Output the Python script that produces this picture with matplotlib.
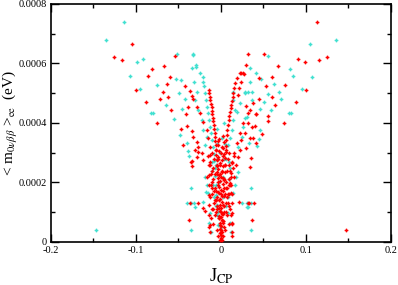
import numpy as np
import matplotlib
matplotlib.use("Agg")
import matplotlib.pyplot as plt
from matplotlib.ticker import MultipleLocator

# J_CP in units of 1e-3, <m> in units of 1e-4 eV
cyan_j = [-114, -135.7, -98.8, -91.4, -51.4, -32.6, -29.8, -107, -34.5, -53, -75.7, -47.4,
          -95.3, -49, -64.3, -82.7, -80, -45.9, -42.4, -54.9, -48.2, -40.4,
          135, 105, 55, 34.5, 80.8, 85, 106.7, 41.5, 46.7, 62.7, 94.9, 68.2, 55.3, 36.5, 28.2,
          70.6, 50.2, 58.4, 80.4, 82.4, 45.5, 46.2, 44.7, 42, 32.5, 28.2,
          -147, -35.3, -39.6, -35.7, -31.8, -31, -35.7, -39, -38, 35, 35, 30.2, 31.4, -20.8,
          24.7, 30.2, 35,
          -24.7, -21.5, -20.8, -20, -18.8, -17.6, -16.5, -15.3, -14.1, -12.9, -11.8, -10.6,
          -9.4, -8.2, -7.6, -7.1, -6.5, -5.9, -5.3, -4.7, -4.1, -3.5,
          -32.6, -29.4, -31.8, -28.6, -30.6, -26.7, -22.7, -20.8, -16.8, -18.8,
          -18.8, -16.8, -14.9, -12.9, -13.8, -12.1, -18,
          34.1, 32.1, 36.1, 28.2, 22.4, 18.5, 14.5, 12.6, 10.6, 8.6, 13.8, 14.5, 16.5,
          26.2, 24.4, 20.4, 30.2,
          8.2, 10.2, 12.1, 14.1, 16.1, 18, 20,
          -2, 2, -3, 3, -1, 1, 0, -4, 4, -6, 6, -9, 9, -11, 11,
          -8, -6, -4, -10, 8, 6, 4, 10, -5, 5]
cyan_m = [7.39, 6.80, 6.04, 6.14, 6.32, 6.33, 5.95, 5.57, 5.84, 5.47, 5.27, 5.43,
          5.13, 5.02, 4.59, 4.34, 4.34, 4.47, 4.80, 4.13, 3.60, 3.32,
          6.80, 6.64, 6.24, 5.85, 5.82, 5.58, 5.56, 5.68, 5.47, 5.30, 5.13, 5.04, 4.96, 5.04, 5.03,
          4.82, 4.71, 4.43, 4.34, 4.34, 4.48, 3.76, 3.47, 3.24, 3.34, 4.16,
          0.40, 1.83, 1.30, 1.30, 1.31, 1.17, 0.40, 3.07, 2.89, 0.41, 1.83, 1.31, 1.19, 1.35,
          1.31, 1.17, 1.30,
          5.68, 5.55, 5.39, 5.24, 5.01, 4.77, 4.54, 4.34, 4.10, 3.87, 3.66, 3.43,
          3.19, 2.96, 2.72, 2.49, 2.22, 1.92, 1.58, 1.24, 0.91, 0.57,
          6.29, 5.89, 5.39, 5.05, 4.77, 4.44, 4.10, 3.76, 3.54, 3.26,
          2.19, 1.92, 1.64, 0.96, 0.63, 0.35, 1.67,
          5.39, 5.05, 4.77, 5.00, 4.66, 4.38, 4.10, 3.76, 3.49, 3.26, 5.05, 4.77, 4.44,
          3.88, 3.54, 3.20, 4.21,
          0.96, 0.63, 0.35, 1.64, 1.92, 2.19, 2.36,
          2.0, 2.2, 1.0, 1.5, 3.0, 3.5, 0.5, 3.8, 4.0, 2.6, 2.8, 1.9, 2.1, 2.4, 2.5,
          1.5, 1.2, 2.8, 2.7, 1.5, 1.2, 2.8, 2.7, 3.3, 3.3]

red_j = [-105, -125.5, -116.5, -67, -81, -54.5, -85.5, -59.6, -64, -100, -68.6, -36.8, -42.7,
         -88.6, -71.4, -62.7, -58.8, -74.9, -33.3, -34.5, -38.5, -47, -44.3,
         -41.5, -40.4, -34.5, -32.6, -28.6, -26.7, -22.7, -20.8, -35.7, -30,
         113.3, 125, 115.7, 91, 98.4, 32.2, 51, 67, 29, 23.5, 26.7, 59.6, 44.3, 75.7, 99.6, 53.3,
         44.3, 60, 88.2, 64, 34.1, 29.4, 55, 40.8, 74.5, 55.7, 48.2, 40.8, 38, 36.1,
         41.5, 31.8, 39.6, 27.9, 33.8, 23.9, 22, 29.8, 20, 18, 35.7, 33.8,
         -36.5, -27, -20.8, -18.8, 20.8, 31.8, 39.2, 33.3,
         -37.3, 36.9, 146.7, -34.5, -34, -27.4, -27.8, 12.9,
         # left main arm
         -14.1, -13.5, -12.9, -12.4, -11.8, -10.9, -10.6, -10.0, -9.4, -9.1, -8.2, -7.9, -7.1,
         -7.1, -6.5, -5.9, -5.9, -5.3, -4.7, -4.7, -4.1, -3.5, -3.5, -2.9, -2.4, -2.4, -1.8,
         -1.2, -1.2, -0.6,
         # right main arm
         22.4, 18.8, 16.5, 15.3, 14.5, 13.8, 12.9, 12.1, 11.4, 10.6, 9.8, 9.1, 8.2, 7.6, 7.1,
         6.5, 5.9, 5.5, 5.1, 4.7, 4.4, 3.9, 3.5, 3.2, 2.7, 2.4, 2.0, 1.5, 1.2,
         26.2, 23.5, 21.2, 20,
         # right outer curve
         38.0, 32.1, 26.2, 22.4, 18.5, 15.3, 12.9, 11.8, 11.2, 11.8, 12.9, 13.5, 12.9, 12.9,
         # left outer curve
         -28.6, -24.7, -20.8, -16.8, -14.7, -12.9, -12.4, -12.9, -13.5, -14.1, -14.1, -14.1,
         -13.5, -12.9, -12.4,
         # central spine
         0.0, 0.3, -0.3, 0.5, -0.5, 0.2, -0.8, 0.8, -0.2, 1.0, -1.0, 0.4, -1.4, 1.4, -0.6, 1.8,
         -1.8, 0.6, -2.2, 2.2, -1.0, 2.6, -2.6, 1.0, -3.0, 3.0, -1.5, 1.5, -3.4, 3.4, -2.0, 2.0,
         -3.8, 3.8, -2.5, 2.5, 0.0, 0.0, 0.0, 0.0, -0.4,
         # dense lower band
         -15, -13, -11, -9, -7, -16, -12, -10, -8, -6, -5, -8, -10, -6, -4, -7, -9, -5, -3, -11,
         15, 13, 11, 9, 7, 16, 12, 10, 8, 6, 5, 8, 10, 6, 4, 7, 9, 5, 3, 11,
         -2, 2, -4, 4, -6, 6, -1, 1, -3, 3,
         -13.5, -11.5, -9.5, -7.5, -5.5, -3.5, -1.5, -14, -12, -10, -8, -6, -4, -2,
         -13, -11, -9, -7, -5, -3,
         13.5, 11.5, 9.5, 7.5, 5.5, 3.5, 1.5, 14, 12, 10, 8, 6, 4, 2,
         13, 11, 9, 7, 5, 3]
red_m = [6.64, 6.21, 6.12, 5.93, 5.82, 6.24, 5.58, 5.55, 5.30, 5.12, 5.04, 5.08, 5.24,
         4.70, 4.82, 4.86, 4.43, 4.01, 4.82, 4.92, 4.55, 3.79, 3.25,
         4.30, 3.90, 3.74, 3.54, 3.37, 3.20, 2.98, 2.76, 2.70, 3.10,
         7.39, 6.21, 6.12, 6.14, 6.04, 6.32, 6.32, 5.93, 5.95, 5.68, 5.66, 5.55, 5.51, 5.27, 5.12,
         5.24, 4.81, 4.86, 4.70, 4.59, 4.43, 4.57, 4.25, 4.30, 4.01, 4.08, 3.62, 3.32, 3.50, 3.88,
         4.30, 3.99, 3.90, 3.65, 3.48, 3.43, 3.09, 3.15, 2.87, 2.59, 2.81, 2.53,
         1.30, 1.32, 1.13, 1.05, 1.35, 1.30, 1.30, 1.32,
         0.75, 0.75, 0.41, 2.72, 2.57, 3.04, 2.87, 0.19,
         5.11, 5.01, 4.87, 4.77, 4.64, 4.54, 4.40, 4.30, 4.17, 4.07, 3.93, 3.80, 3.66,
         3.53, 3.40, 3.26, 3.09, 2.92, 2.76, 2.55, 2.35, 2.15, 1.92, 1.68, 1.41, 1.14, 0.87,
         0.57, 0.30, 0.07,
         5.67, 5.51, 5.35, 5.18, 5.01, 4.87, 4.74, 4.61, 4.50, 4.37, 4.24, 4.10, 3.93, 3.76, 3.60,
         3.43, 3.23, 3.03, 2.82, 2.59, 2.35, 2.08, 1.82, 1.55, 1.24, 0.94, 0.64, 0.34, 0.07,
         5.67, 5.38, 5.18, 4.94,
         4.66, 4.33, 3.99, 3.65, 3.32, 2.99, 2.66, 2.32, 1.98, 1.65, 1.31, 0.97, 0.64, 0.34,
         4.55, 4.33, 4.04, 3.76, 3.50, 3.20, 2.92, 2.59, 2.25, 1.92, 1.58, 1.24,
         0.91, 0.57, 0.34,
         0.05, 0.15, 0.25, 0.35, 0.45, 0.55, 0.65, 0.75, 0.85, 0.95, 1.05, 1.15, 1.25, 1.35, 1.45, 1.55,
         1.65, 1.75, 1.85, 1.95, 2.05, 2.15, 2.25, 2.35, 2.45, 2.55, 2.65, 2.75, 2.85, 2.95, 3.05, 3.15,
         3.25, 3.35, 3.45, 3.55, 1.0, 1.6, 2.2, 0.4, 3.0,
         2.9, 2.7, 2.4, 2.1, 1.8, 2.2, 1.9, 1.6, 1.3, 1.0, 2.6, 2.8, 3.0, 3.1, 1.2, 0.9, 0.6, 0.4, 0.2, 1.1,
         2.9, 2.7, 2.4, 2.1, 1.8, 2.2, 1.9, 1.6, 1.3, 1.0, 2.6, 2.8, 3.0, 3.1, 1.2, 0.9, 0.6, 0.4, 0.2, 1.1,
         0.8, 1.7, 2.3, 0.5, 1.4, 2.0, 2.6, 3.2, 3.4, 0.7,
         0.5, 0.8, 1.1, 1.4, 1.7, 2.0, 2.3, 2.6, 2.3, 2.0, 1.7, 1.4, 1.1, 0.8,
         1.5, 1.8, 2.5, 2.3, 1.5, 2.8,
         0.6, 0.9, 1.2, 1.5, 1.8, 2.1, 2.4, 2.5, 2.2, 1.9, 1.6, 1.3, 1.0, 0.7,
         1.6, 1.9, 2.6, 2.4, 1.6, 2.9]

plt.rcParams['font.family'] = 'Liberation Serif'
plt.rcParams['mathtext.fontset'] = 'stix'

fig = plt.figure(figsize=(3.98, 2.85), dpi=100)
ax = fig.add_axes([0.128, 0.151, 0.854, 0.835])

ax.plot(np.array(cyan_j) * 1e-3, np.array(cyan_m) * 1e-4, ls='none', marker='P', ms=2.3,
        color='#40e0d0', mec='#40e0d0', mew=0.3, zorder=2)
ax.plot(np.array(red_j) * 1e-3, np.array(red_m) * 1e-4, ls='none', marker='P', ms=2.3,
        color='#ff0000', mec='#ff0000', mew=0.3, zorder=3)

ax.set_xlim(-0.2, 0.2)
ax.set_ylim(0, 0.0008)
ax.set_xticks([-0.2, -0.1, 0, 0.1, 0.2])
ax.set_xticklabels(['-0.2', '-0.1', '0', '0.1', '0.2'])
ax.set_yticks([0, 0.0002, 0.0004, 0.0006, 0.0008])
ax.set_yticklabels(['0', '0.0002', '0.0004', '0.0006', '0.0008'])
ax.xaxis.set_minor_locator(MultipleLocator(0.05))
ax.yaxis.set_minor_locator(MultipleLocator(0.0001))
ax.tick_params(which='both', direction='in', top=True, right=True, labelsize=7.5, width=1, pad=3)
ax.tick_params(which='major', length=6)
ax.tick_params(which='minor', length=3)
for sp in ax.spines.values():
    sp.set_linewidth(1.2)

ax.set_xlabel(r'J$_{\mathrm{CP}}$', fontsize=13)
ax.xaxis.set_label_coords(0.5, -0.105)
ax.set_ylabel(r'< m$_{0\nu\beta\beta}$ >$_{\mathrm{ee}}$  (eV)', fontsize=11)
ax.yaxis.set_label_coords(-0.09, 0.5)

fig.savefig('out.png', dpi=100)
